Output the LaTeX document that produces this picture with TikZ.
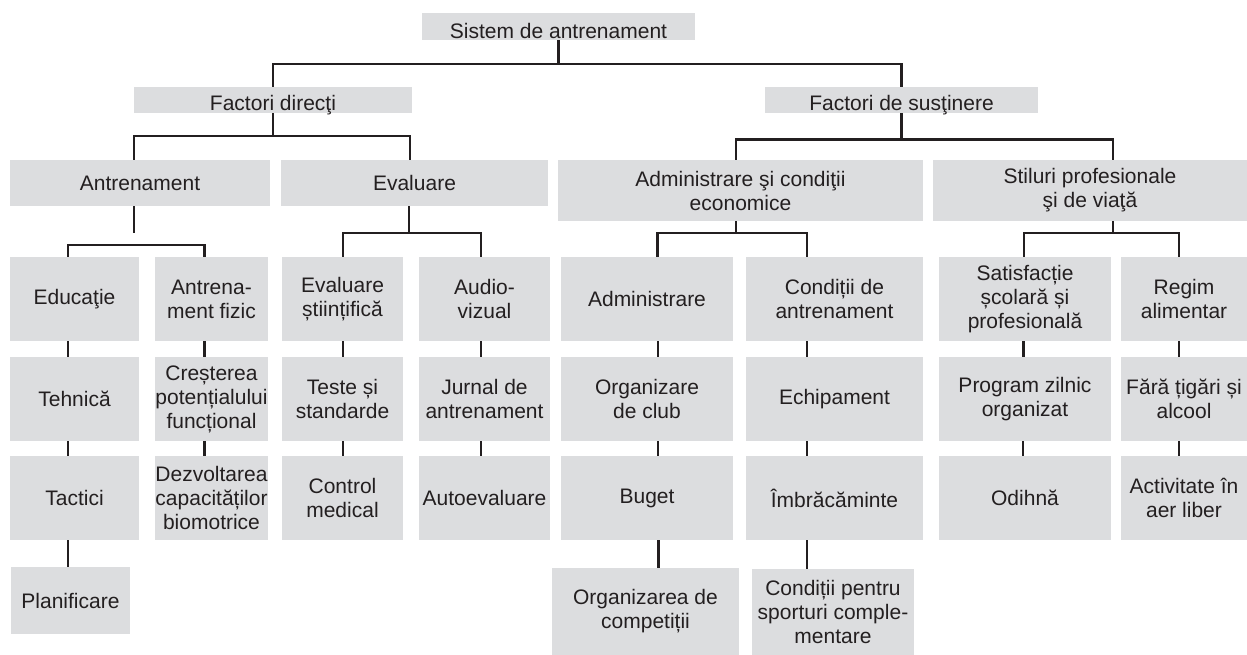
\documentclass[tikz,border=0pt]{standalone}
\usepackage{fontspec}
\setmainfont{Liberation Sans}
\definecolor{boxgray}{RGB}{220,221,223}
\definecolor{ink}{RGB}{35,31,32}
\tikzset{
  box/.style={fill=boxgray, inner sep=0pt, align=center, text=ink, font=\fontsize{21}{24}\selectfont},
  conn/.style={draw=ink, line width=2.5pt},
  c1/.style={minimum width=129pt}, c2/.style={minimum width=113pt},
  c3/.style={minimum width=121pt}, c4/.style={minimum width=131pt},
  c5/.style={minimum width=172pt}, c6/.style={minimum width=177pt},
  c7/.style={minimum width=172pt}, c8/.style={minimum width=126pt},
  rowbox/.style={minimum height=84pt},
}
\begin{document}
\begin{tikzpicture}[x=1pt,y=-1pt]
\useasboundingbox (0,0) rectangle (1247,655);
% top levels
\node[box, minimum width=273pt, minimum height=27pt, text height=26pt, text depth=1pt] (root) at (558.5,26.5) {Sistem de antrenament};
\node[box, minimum width=278pt, minimum height=26pt, text height=24pt, text depth=2pt] (fd) at (273,100) {Factori direcţi};
\node[box, minimum width=273pt, minimum height=26pt, text height=24pt, text depth=2pt] (fs) at (901.5,100) {Factori de susţinere};
\node[box, minimum width=260pt, minimum height=46pt] (antr) at (140,183) {Antrenament};
\node[box, minimum width=267pt, minimum height=46pt] (eval) at (414.5,183) {Evaluare};
\node[box, minimum width=365pt, minimum height=61pt] (adm) at (740.5,190.5) {Administrare şi condiţii\\economice};
\node[box, minimum width=314pt, minimum height=61pt] (stil) at (1090,190.5) {Stiluri profesionale\\şi de viaţă};
% row 3
\node[box, c1, rowbox] (edu) at (74.5,299) {Educaţie};
\node[box, c2, rowbox] (afiz) at (211.5,299) {Antrena-\\ment fizic};
\node[box, c3, rowbox] (evs) at (342.5,299) {Evaluare\\științifică};
\node[box, c4, rowbox] (audio) at (484.5,299) {Audio-\\vizual};
\node[box, c5, rowbox] (admi) at (647,299) {Administrare};
\node[box, c6, rowbox] (cond) at (834.5,299) {Condiții de\\antrenament};
\node[box, c7, rowbox] (sat) at (1025,299) {Satisfacție\\școlară și\\profesională};
\node[box, c8, rowbox] (regim) at (1184,299) {Regim\\alimentar};
% row 4
\node[box, c1, rowbox] (teh) at (74.5,399) {Tehnică};
\node[box, c2, rowbox] (cres) at (211.5,399) {Creșterea\\potențialului\\funcțional};
\node[box, c3, rowbox] (teste) at (342.5,399) {Teste și\\standarde};
\node[box, c4, rowbox] (jurnal) at (484.5,399) {Jurnal de\\antrenament};
\node[box, c5, rowbox] (orgclub) at (647,399) {Organizare\\de club};
\node[box, c6, rowbox] (echip) at (834.5,399) {Echipament};
\node[box, c7, rowbox] (prog) at (1025,399) {Program zilnic\\organizat};
\node[box, c8, rowbox] (fara) at (1184,399) {Fără țigări și\\alcool};
% row 5
\node[box, c1, rowbox] (tac) at (74.5,498) {Tactici};
\node[box, c2, rowbox] (dezv) at (211.5,498) {Dezvoltarea\\capacităților\\biomotrice};
\node[box, c3, rowbox] (ctrl) at (342.5,498) {Control\\medical};
\node[box, c4, rowbox] (autoev) at (484.5,498) {Autoevaluare};
\node[box, c5, rowbox] (buget) at (647,498) {Buget};
\node[box, c6, rowbox] (imbr) at (834.5,498) {Îmbrăcăminte};
\node[box, c7, rowbox] (odih) at (1025,498) {Odihnă};
\node[box, c8, rowbox] (activ) at (1184,498) {Activitate în\\aer liber};
% row 6
\node[box, minimum width=119pt, minimum height=67pt] (plan) at (70.5,600.5) {Planificare};
\node[box, minimum width=187pt, minimum height=87pt] (orgcomp) at (645.5,611.5) {Organizarea de\\competiții};
\node[box, minimum width=162pt, minimum height=86pt] (condsp) at (833,612) {Condiții pentru\\sporturi comple-\\mentare};
% connectors
\draw[conn] (root.south) -- ++(0,24) -| (fd.north);
\draw[conn] (root.south) -- ++(0,24) -| (fs.north);
\draw[conn] (fd.south) -- ++(0,23) -| ([xshift=-6pt]antr.north);
\draw[conn] (fd.south) -- ++(0,23) -| ([xshift=-4.5pt]eval.north);
\draw[conn] (fs.south) -- ++(0,26.5) -| ([xshift=-4.5pt]adm.north);
\draw[conn] (fs.south) -- ++(0,26.5) -| ([xshift=23pt]stil.north);
\draw[conn] ([xshift=-6pt]antr.south) -- ++(0,27);
\draw[conn] ([xshift=-6.5pt]edu.north) -- ++(0,-12) -| ([xshift=-7pt]afiz.north);
\draw[conn] ([xshift=-5.5pt]eval.south) -- ++(0,27) -| ([xshift=0.5pt]evs.north);
\draw[conn] ([xshift=-5.5pt]eval.south) -- ++(0,27) -| ([xshift=-3.5pt]audio.north);
\draw[conn] ([xshift=-4.5pt]adm.south) -- ++(0,12) -| ([xshift=10.5pt]admi.north);
\draw[conn] ([xshift=-4.5pt]adm.south) -- ++(0,12) -| ([xshift=-27.5pt]cond.north);
\draw[conn] ([xshift=23pt]stil.south) -- ++(0,12) -| ([xshift=-1pt]sat.north);
\draw[conn] ([xshift=23pt]stil.south) -- ++(0,12) -| ([xshift=-5pt]regim.north);
\foreach \s/\a/\b in {-6.5/edu/teh, -6.5/teh/tac, -6.5/tac/plan,
    -7/afiz/cres, -7/cres/dezv, 0.5/evs/teste, 0.5/teste/ctrl,
    -3.5/audio/jurnal, -3.5/jurnal/autoev,
    11/admi/orgclub, 11/orgclub/buget, 11.5/buget/orgcomp,
    -27.5/cond/echip, -27.5/echip/imbr, -27.5/imbr/condsp,
    -1.5/sat/prog, -2/prog/odih, -5/regim/fara, -5/fara/activ}
  \draw[conn] ([xshift=\s pt]\a.south) -- ([xshift=\s pt]\a.south |- \b.north);
\end{tikzpicture}
\end{document}
